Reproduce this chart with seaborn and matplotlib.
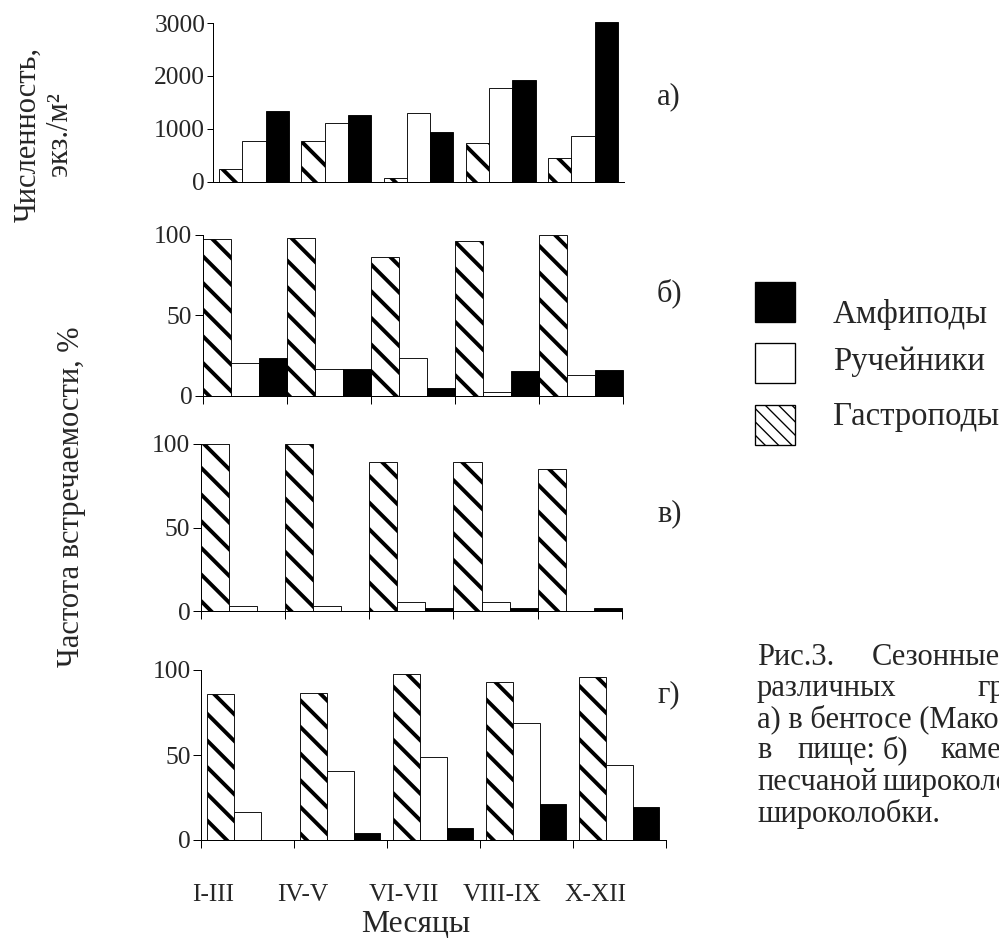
import numpy as np
import pandas as pd
import seaborn as sns
import matplotlib.pyplot as plt
from matplotlib.patches import Rectangle

# Data
periods = ['I-III', 'IV-V', 'VI-VII', 'VIII-IX', 'X-XII']
groups = ['Гастроподы', 'Ручейники', 'Амфиподы']

# а) численность в бентосе, экз./м2
a_gastro = [230, 760, 60, 720, 440]
a_ruch = [770, 1100, 1290, 1770, 860]
a_amph = [1335, 1260, 940, 1930, 3015]
# б) частота встречаемости, %
b_gastro = [97, 98, 86, 96, 100]
b_ruch = [20.5, 16.5, 23.5, 2.3, 13]
b_amph = [23.5, 16.8, 4.8, 15.6, 15.8]
# в)
c_gastro = [100, 100, 89, 89, 85.3]
c_ruch = [3.2, 3.2, 5.6, 5.6, 0]
c_amph = [0, 0, 2, 2, 2]
# г)
d_gastro = [86, 86.2, 97.6, 92.7, 96.1]
d_ruch = [16.5, 40.3, 48.9, 68.6, 44]
d_amph = [0, 3.9, 7.3, 21.2, 19.6]

colors = {'Гастроподы': 'white', 'Ручейники': 'white', 'Амфиподы': 'black'}

sns.set_style('white')
plt.rcParams['font.family'] = ['Liberation Serif', 'DejaVu Serif']
plt.rcParams['hatch.linewidth'] = 3.5
plt.rcParams['axes.linewidth'] = 0.9

W, H, DPI = 999, 944, 80
fig = plt.figure(figsize=(W / DPI, H / DPI), dpi=DPI)


def rect(x0, x1, ytop, yzero):
    # pixel box -> figure fraction
    return [x0 / W, 1 - yzero / H, (x1 - x0) / W, (yzero - ytop) / H]


def panel(box, gastro, ruch, amph, width, ymax, yticks):
    ax = fig.add_axes(rect(*box))
    df = pd.DataFrame({
        'period': periods * 3,
        'group': [g for g in groups for _ in periods],
        'value': gastro + ruch + amph,
    })
    sns.barplot(data=df, x='period', y='value', hue='group', hue_order=groups,
                palette=colors, saturation=1, width=width, errorbar=None,
                edgecolor='black', linewidth=0.8, legend=False, ax=ax)
    for bar in ax.containers[0]:
        bar.set_hatch('\\')
    for c in ax.containers:
        for bar in c:
            bar.set_clip_on(False)
    ax.set_xlim(-0.5, 4.5)
    ax.set_ylim(0, ymax)
    ax.set_yticks(yticks)
    ax.set_xlabel('')
    ax.set_ylabel('')
    sns.despine(ax=ax)
    for s in ['left', 'bottom']:
        ax.spines[s].set_color('black')
    ax.tick_params(axis='y', direction='out', length=7, width=0.9, pad=2,
                   labelsize=23, color='black', left=True)
    ax.set_xticks(np.arange(-0.5, 5, 1))
    ax.set_xticklabels([])
    ax.tick_params(axis='x', direction='out', length=7, width=0.9,
                   color='black', bottom=True)
    return ax

ax_a = panel((213, 624, 23, 181.5), a_gastro, a_ruch, a_amph, 0.85, 3000,
             [0, 1000, 2000, 3000])
ax_a.tick_params(axis='x', bottom=False)
ax_a.tick_params(axis='y', length=5)

ax_b = panel((202.5, 623, 234.6, 396), b_gastro, b_ruch, b_amph, 1.0, 100, [0, 50, 100])
ax_c = panel((200.5, 622, 444, 611), c_gastro, c_ruch, c_amph, 1.0, 100, [0, 50, 100])
ax_d = panel((200.7, 665.7, 670, 840), d_gastro, d_ruch, d_amph, 0.86, 100, [0, 50, 100])

# month labels sit left of the group centres in the original
label_pos = [-0.37, 0.60, 1.69, 2.74, 3.74]
ax_d.set_xticks(label_pos, labels=periods, minor=True)
ax_d.tick_params(axis='x', which='minor', length=0, pad=40, labelsize=23)

fig.text(416 / W, 1 - 925 / H, 'Месяцы', ha='center', va='center', fontsize=28.5)

# panel letters
for txt, y in [('а)', 97), ('б)', 293), ('в)', 514), ('г)', 695)]:
    fig.text(657 / W, 1 - y / H, txt, ha='left', va='center', fontsize=27.5)

# y axis titles
fig.text(44 / W, 1 - 134 / H, 'Численность,\nэкз./м²', rotation=90, ha='center',
         va='center', multialignment='center', linespacing=1.1, fontsize=27.5)
fig.text(72 / W, 1 - 497 / H, 'Частота встречаемости, %', rotation=90,
         ha='center', va='center', fontsize=27.5)

# legend drawn by hand
sq = 40
leg = [('Амфиподы', 282, 323, 'black', None),
       ('Ручейники', 343, 370, 'white', None),
       ('Гастроподы', 405, 425, 'white', '\\\\')]
for name, top, base, fc, hatch in leg:
    with plt.rc_context({'hatch.linewidth': 1.2}):
        p = Rectangle((755 / W, 1 - (top + sq) / H), sq / W, sq / H,
                      transform=fig.transFigure, facecolor=fc,
                      edgecolor='black', linewidth=1.2, hatch=hatch)
    fig.patches.append(p)
    fig.text(833 / W, 1 - base / H, name, ha='left', va='baseline', fontsize=29.5)

# caption, justified lines cut by the page edge
caption = [
    [(757, 'Рис.3.'), (872, 'Сезонные')],
    [(757, 'различных'), (977, 'групп')],
    [(757, 'а) в бентосе (Макоедов')],
    [(757, 'в'), (797, 'пище:'), (883, 'б)'), (940, 'каменной')],
    [(757, 'песчаной'), (882, 'широколобки')],
    [(757, 'широколобки.')],
]
baselines = [665, 696, 727, 758, 790, 822]
for words, yb in zip(caption, baselines):
    for x, w in words:
        fig.text(x / W, 1 - yb / H, w, ha='left', va='baseline', fontsize=27.5)

fig.savefig('out.png', dpi=DPI)
